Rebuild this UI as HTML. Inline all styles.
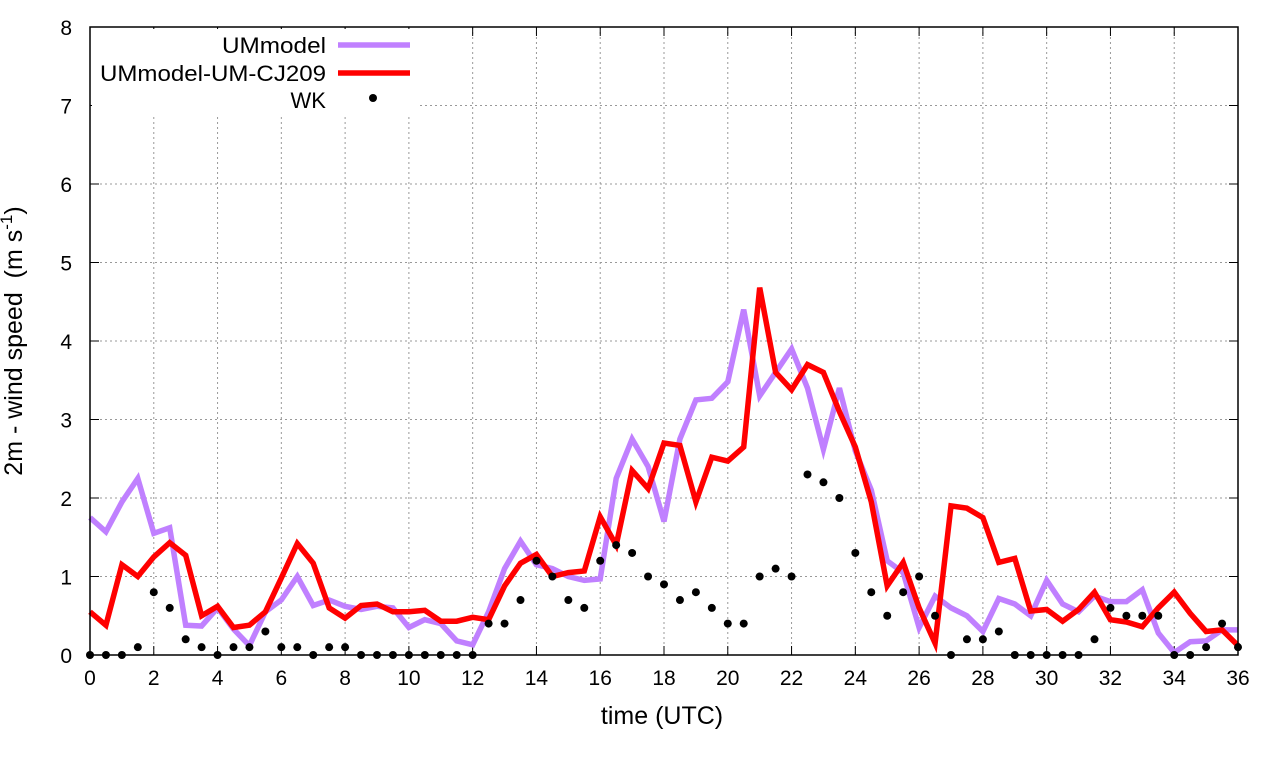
<!DOCTYPE html>
<html><head><meta charset="utf-8"><style>body{margin:0;background:#fff}svg{display:block}text{font-family:"Liberation Sans",sans-serif}</style></head>
<body>
<svg id="s" width="1280" height="760" xmlns="http://www.w3.org/2000/svg"></svg>
<script>
const P=[1.75,1.57,1.95,2.25,1.55,1.62,0.38,0.37,0.6,0.33,0.12,0.55,0.7,1.0,0.63,0.7,0.62,0.58,0.62,0.6,0.35,0.45,0.4,0.18,0.13,0.55,1.1,1.45,1.15,1.1,1.0,0.95,0.97,2.25,2.75,2.4,1.7,2.75,3.25,3.27,3.48,4.4,3.3,3.6,3.9,3.4,2.62,3.4,2.6,2.1,1.2,1.05,0.35,0.75,0.6,0.5,0.3,0.72,0.65,0.5,0.95,0.65,0.55,0.75,0.68,0.68,0.83,0.28,0.03,0.17,0.18,0.32,0.32];
const R=[0.55,0.38,1.15,1.0,1.25,1.43,1.27,0.5,0.62,0.35,0.38,0.55,0.98,1.42,1.17,0.6,0.47,0.63,0.65,0.55,0.55,0.57,0.43,0.43,0.48,0.45,0.88,1.17,1.28,1.0,1.05,1.07,1.76,1.4,2.35,2.12,2.7,2.67,1.95,2.52,2.47,2.65,4.68,3.6,3.38,3.7,3.6,3.1,2.65,1.95,0.88,1.18,0.6,0.15,1.9,1.87,1.75,1.18,1.23,0.56,0.58,0.43,0.58,0.8,0.45,0.42,0.36,0.6,0.8,0.53,0.3,0.32,0.12];
const W=[0,0,0,0.1,0.8,0.6,0.2,0.1,0,0.1,0.1,0.3,0.1,0.1,0,0.1,0.1,0,0,0,0,0,0,0,0,0.4,0.4,0.7,1.2,1.0,0.7,0.6,1.2,1.4,1.3,1.0,0.9,0.7,0.8,0.6,0.4,0.4,1.0,1.1,1.0,2.3,2.2,2.0,1.3,0.8,0.5,0.8,1.0,0.5,0,0.2,0.2,0.3,0,0,0,0,0,0.2,0.6,0.5,0.5,0.5,0,0,0.1,0.4,0.1];
const X=t=>90+t*(1148/36),Y=v=>655-v*78.5;
let h='';
for(let i=1;i<18;i++){const x=X(i*2);h+=`<line x1="${x}" y1="27" x2="${x}" y2="655" stroke="#999" stroke-dasharray="2,3"/>`;}
for(let i=1;i<8;i++){const y=Y(i);h+=`<line x1="90" y1="${y}" x2="1238" y2="${y}" stroke="#999" stroke-dasharray="2,3"/>`;}
for(let i=0;i<=18;i++){const x=X(i*2);h+=`<line x1="${x}" y1="655" x2="${x}" y2="646" stroke="#000"/><line x1="${x}" y1="27" x2="${x}" y2="36" stroke="#000"/><text x="${x}" y="685" font-size="21" text-anchor="middle">${i*2}</text>`;}
for(let i=0;i<=8;i++){const y=Y(i);h+=`<line x1="90" y1="${y}" x2="99" y2="${y}" stroke="#000"/><line x1="1238" y1="${y}" x2="1229" y2="${y}" stroke="#000"/><text x="72" y="${y+8}" font-size="21" text-anchor="end">${i}</text>`;}
h+=`<rect x="92" y="29" width="326" height="86" fill="#fff"/>`;
const pl=(a,c)=>`<polyline fill="none" stroke="${c}" stroke-width="5.5" stroke-linejoin="miter" points="${a.map((v,i)=>X(i/2).toFixed(1)+','+Y(v).toFixed(1)).join(' ')}"/>`;
h+=pl(P,'#c080ff')+pl(R,'#ff0000');
W.forEach((v,i)=>{h+=`<circle cx="${X(i/2)}" cy="${Y(v)}" r="4" fill="#000"/>`;});
h+=`<rect x="90" y="27" width="1148" height="628" fill="none" stroke="#000" stroke-width="1.5"/>`;
h+=`<text x="326" y="53" font-size="22" text-anchor="end" textLength="104" lengthAdjust="spacingAndGlyphs">UMmodel</text><line x1="338" y1="45" x2="410" y2="45" stroke="#c080ff" stroke-width="5.5"/>`;
h+=`<text x="326" y="81" font-size="22" text-anchor="end" textLength="226" lengthAdjust="spacingAndGlyphs">UMmodel-UM-CJ209</text><line x1="338" y1="73" x2="410" y2="73" stroke="#f00" stroke-width="5.5"/>`;
h+=`<text x="326" y="108" font-size="22" text-anchor="end">WK</text><circle cx="373" cy="98" r="4" fill="#000"/>`;
h+=`<text x="662" y="724" font-size="25" text-anchor="middle">time (UTC)</text>`;
h+=`<text transform="translate(22,341) rotate(-90)" font-size="25" text-anchor="middle" xml:space="preserve">2m - wind speed  (m s<tspan dy="-10" font-size="17">-1</tspan><tspan dy="10">)</tspan></text>`;
document.getElementById('s').innerHTML=h;
</script>
</body></html>
